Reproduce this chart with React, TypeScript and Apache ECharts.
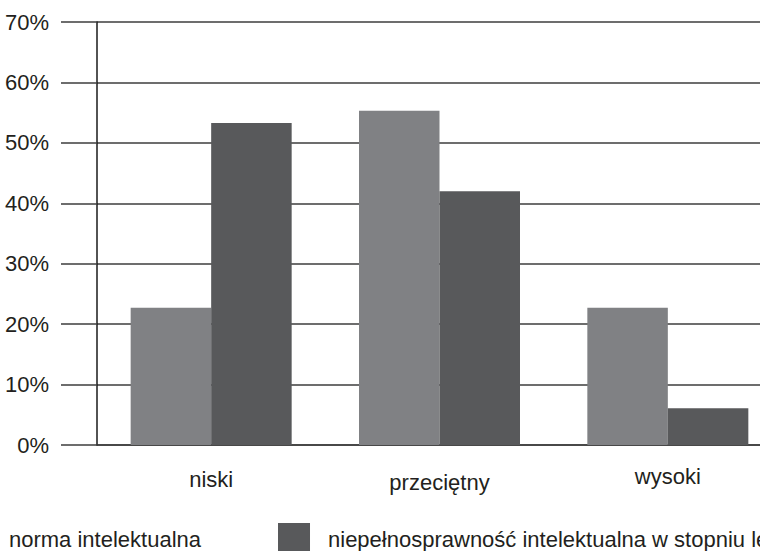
import React, { useEffect, useRef } from "react";
import * as echarts from "echarts";

const categories = ["niski", "przeciętny", "wysoki"];
const seriesNames = [
  "norma intelektualna",
  "niepełnosprawność intelektualna w stopniu lekkim",
];
const normaValues = [22.7, 55.3, 22.7];
const niepelnoValues = [53.3, 42.0, 6.1];
const yTicks = [0, 10, 20, 30, 40, 50, 60, 70];
const labelOffsets = [3, 6, 0];

const FONT = "'Liberation Sans', Arial, Helvetica, sans-serif";
const TEXT = "#231f20";
const GRID = "#3c3c3c";

export default function App() {
  const ref = useRef<HTMLDivElement>(null);
  useEffect(() => {
    document.body.style.margin = "0";
    if (!ref.current) return;
    const chart = echarts.init(ref.current, undefined, { renderer: "svg" });
    chart.setOption({
      animation: false,
      backgroundColor: "#ffffff",
      textStyle: { fontFamily: FONT },
      grid: { left: 97, right: 0, top: 22, bottom: 106, containLabel: false },
      legend: {
        left: -41,
        top: 523,
        width: 1400,
        padding: 0,
        itemWidth: 32,
        itemHeight: 32,
        itemGap: 77,
        icon: "rect",
        data: seriesNames,
        textStyle: {
          fontFamily: FONT,
          fontSize: 22,
          color: TEXT,
          padding: [0, 0, 0, 13],
        },
      },
      xAxis: {
        type: "category",
        data: categories.map((c, i) => ({
          value: c,
          textStyle: { padding: [labelOffsets[i], 0, 0, 0] },
        })),
        axisLine: { show: true, lineStyle: { color: GRID, width: 1.5 } },
        axisTick: { show: false },
        axisLabel: {
          margin: 20,
          fontSize: 22,
          color: TEXT,
          fontFamily: FONT,
          interval: 0,
        },
      },
      yAxis: {
        type: "value",
        min: yTicks[0],
        max: yTicks[yTicks.length - 1],
        interval: 10,
        axisLine: { show: true, lineStyle: { color: "#1a1a1a", width: 1.5 } },
        axisTick: {
          show: true,
          length: 36,
          lineStyle: { color: GRID, width: 1.5 },
        },
        splitLine: { show: true, lineStyle: { color: GRID, width: 1.5 } },
        axisLabel: {
          margin: 48,
          fontSize: 22,
          color: TEXT,
          fontFamily: FONT,
          formatter: (v: number) => `${v}%`,
        },
      },
      series: [
        {
          name: seriesNames[0],
          type: "bar",
          data: normaValues,
          barWidth: 80.5,
          barGap: "0%",
          itemStyle: { color: "#808184" },
          z: 3,
        },
        {
          name: seriesNames[1],
          type: "bar",
          data: niepelnoValues,
          barWidth: 80.5,
          barGap: "0%",
          itemStyle: { color: "#58595b" },
          z: 3,
        },
      ],
    });
    return () => chart.dispose();
  }, []);
  return (
    <div style={{ width: 760, height: 551, overflow: "hidden", position: "relative" }}>
      <div ref={ref} style={{ width: 782, height: 551 }} />
    </div>
  );
}
